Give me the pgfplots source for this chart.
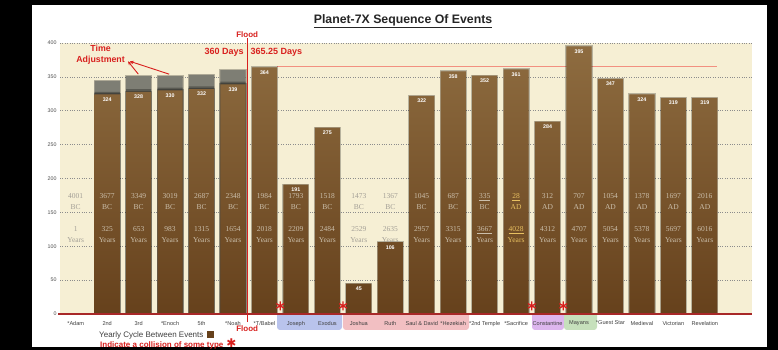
\documentclass[border=0pt]{standalone}
\usepackage{pgfplots}
\pgfplotsset{compat=1.18}
\usepackage{fontspec}
\setmainfont{Liberation Sans}
\newfontfamily\yrfont{Liberation Serif}
\newfontfamily\dejavu{DejaVu Sans}
\usetikzlibrary{arrows.meta}
\definecolor{cream}{HTML}{F6EFD4}
\definecolor{barTop}{HTML}{8E6C40}
\definecolor{barBot}{HTML}{66411C}
\definecolor{grayA}{HTML}{7E7E74}
\definecolor{grayB}{HTML}{5A5A52}
\definecolor{redA}{HTML}{D8201E}
\definecolor{axisred}{HTML}{A82828}
\definecolor{salmon}{HTML}{F29080}
\definecolor{onbar}{HTML}{CBBFAB}
\definecolor{oncream}{HTML}{A39F96}
\definecolor{gold}{HTML}{E8C060}
\definecolor{boxblue}{HTML}{B9C3EC}
\definecolor{boxpink}{HTML}{F2BFC2}
\definecolor{boxpurple}{HTML}{DDB6EE}
\definecolor{boxgreen}{HTML}{C6E0BC}

\begin{document}
\begin{tikzpicture}[x=1pt,y=1pt]
\fill[black] (0,0) rectangle (778,350);
\fill[white] (32,3) rectangle (767,345);
% category label boxes
\fill[boxblue, rounded corners=3pt] (277,20) rectangle (342,40);
\fill[boxpink, rounded corners=3pt] (343,20) rectangle (469,40);
\fill[boxpurple, rounded corners=3pt] (532,20) rectangle (564,40);
\fill[boxgreen, rounded corners=3pt] (564,20) rectangle (597,40);
\node[anchor=base, font=\bfseries\fontsize{12.3}{14}\selectfont, text=black!85] at (403,326.5) {\underline{Planet-7X Sequence Of Events}};
\begin{axis}[
  at={(60pt,36pt)}, anchor=south west,
  scale only axis, width=692pt, height=271pt,
  xmin=-0.5, xmax=21.5, ymin=0, ymax=400,
  axis background/.style={fill=cream},
  axis line style={draw=none},
  ytick={0,50,...,400},
  ymajorgrids,
  grid style={dotted, black!45, line width=0.7pt},
  xtick={0,...,20},
  xticklabels={*Adam,2nd,3rd,*Enoch,5th,*Noah,*T/Babel,Joseph,Exodus,Joshua,Ruth,Saul \& David,*Hezekiah,*2nd Temple,*Sacrifice,Constantine,Mayans,*Guest Star,Medieval,Victorian,Revelation},
  major tick length=0pt,
  /pgf/number format/assume math mode=true,
  yticklabel style={font=\fontsize{5.3}{6}\selectfont, text=black!70},
  xticklabel style={font=\fontsize{5.6}{6}\selectfont, text=black!75, yshift=-3.5pt},
  clip=false,
]
% 365.25 reference line
\draw[salmon, line width=0.7pt] (axis cs:6.4,366) -- (axis cs:20.4,366);
% time adjustment (gray) parts
\addplot[ybar, bar width=0.8, bar shift=0pt, fill=grayA, draw=none,
  preaction={draw=black, line width=2pt, opacity=0.25}]
  coordinates {(1,344) (2,351) (3,351) (4,353) (5,360)};
\addplot[ybar, bar width=0.8, bar shift=0pt, fill=grayB, draw=none]
  coordinates {(1,328) (2,332) (3,334) (4,336) (5,343)};
% yearly cycle bars
\addplot[ybar, bar width=0.8, bar shift=0pt, draw=none, top color=barTop, bottom color=barBot,
  preaction={draw=black, line width=2pt, opacity=0.25},
  nodes near coords,
  every node near coord/.append style={anchor=north, font=\bfseries\fontsize{5.3}{6}\selectfont, text=white, inner sep=1pt, yshift=-2pt}]
  coordinates {(1,324) (2,328) (3,330) (4,332) (5,339) (6,364) (7,191) (8,275) (9,45) (10,106)
  (11,322) (12,358) (13,352) (14,361) (15,284) (16,395) (17,347) (18,324) (19,319) (20,319)};
% dates and elapsed years
\addplot[only marks, mark=none, point meta=explicit symbolic,
  visualization depends on={value \thisrow{era}\as\era},
  visualization depends on={value \thisrow{cnt}\as\cnt},
  visualization depends on={value \thisrow{tc}\as\tc},
  nodes near coords={\pgfplotspointmeta\\\era\\[11.6pt]\cnt\\Years},
  every node near coord/.append style={anchor=center, align=center, font=\yrfont\fontsize{7.5}{10.7}\selectfont, text=\tc, inner sep=0pt}]
  table[x=x, y=y, meta=yr] {
x y yr era cnt tc
0 142 4001 BC 1 oncream
1 142 3677 BC 325 onbar
2 142 3349 BC 653 onbar
3 142 3019 BC 983 onbar
4 142 2687 BC 1315 onbar
5 142 2348 BC 1654 onbar
6 142 1984 BC 2018 onbar
7 142 1793 BC 2209 onbar
8 142 1518 BC 2484 onbar
9 142 1473 BC 2529 oncream
10 142 1367 BC 2635 oncream
11 142 1045 BC 2957 onbar
12 142 687 BC 3315 onbar
13 142 \underline{335} BC \underline{3667} onbar
14 142 \underline{28} AD \underline{4028} gold
15 142 312 AD 4312 onbar
16 142 707 AD 4707 onbar
17 142 1054 AD 5054 onbar
18 142 1378 AD 5378 onbar
19 142 1697 AD 5697 onbar
20 142 2016 AD 6016 onbar
};
% x axis line
\draw[axisred, line width=1.6pt] (axis cs:-0.55,0) -- (axis cs:21.5,0);
% collisions
\addplot[only marks, mark=asterisk, mark size=4.5pt, redA, line width=1.3pt]
  coordinates {(6.5,12) (8.5,12) (14.5,12) (15.5,12)};
% flood
\draw[redA, line width=1.3pt] (axis cs:5.45,-12) -- (axis cs:5.45,407);
\node[redA, font=\bfseries\fontsize{8}{9}\selectfont] at (axis cs:5.45,413) {Flood};
\node[redA, font=\bfseries\fontsize{8}{9}\selectfont] at (axis cs:5.45,-21) {Flood};
\node[redA, font=\bfseries\fontsize{9}{10}\selectfont, anchor=east, inner sep=1pt] at (axis cs:5.38,386) {360 Days};
\node[redA, font=\bfseries\fontsize{9}{10}\selectfont, anchor=west, inner sep=1pt] at (axis cs:5.52,386) {365.25 Days};
% time adjustment
\node[redA, font=\bfseries\fontsize{8.8}{11}\selectfont, align=center] at (axis cs:0.79,382) {Time\\Adjustment};
\draw[redA, line width=0.9pt, -{Stealth[length=4pt,width=3.5pt]}] (axis cs:1.99,354) -- (axis cs:1.66,373);
\draw[redA, line width=0.9pt, -{Stealth[length=4pt,width=3.5pt]}] (axis cs:2.97,354) -- (axis cs:1.72,373);
\end{axis}
% legend
\node[anchor=west, font=\fontsize{8}{9}\selectfont, text=black!75, inner sep=0pt] at (99,15) {Yearly Cycle Between Events\hspace{4pt}\textcolor{barBot}{\rule{7pt}{7pt}}};
\node[anchor=west, font=\bfseries\fontsize{8}{9}\selectfont, text=redA, inner sep=0pt] at (100,6) {Indicate a collision of some type\hspace{3pt}{\dejavu\fontsize{12}{12}\selectfont ✱}};
\end{tikzpicture}
\end{document}
